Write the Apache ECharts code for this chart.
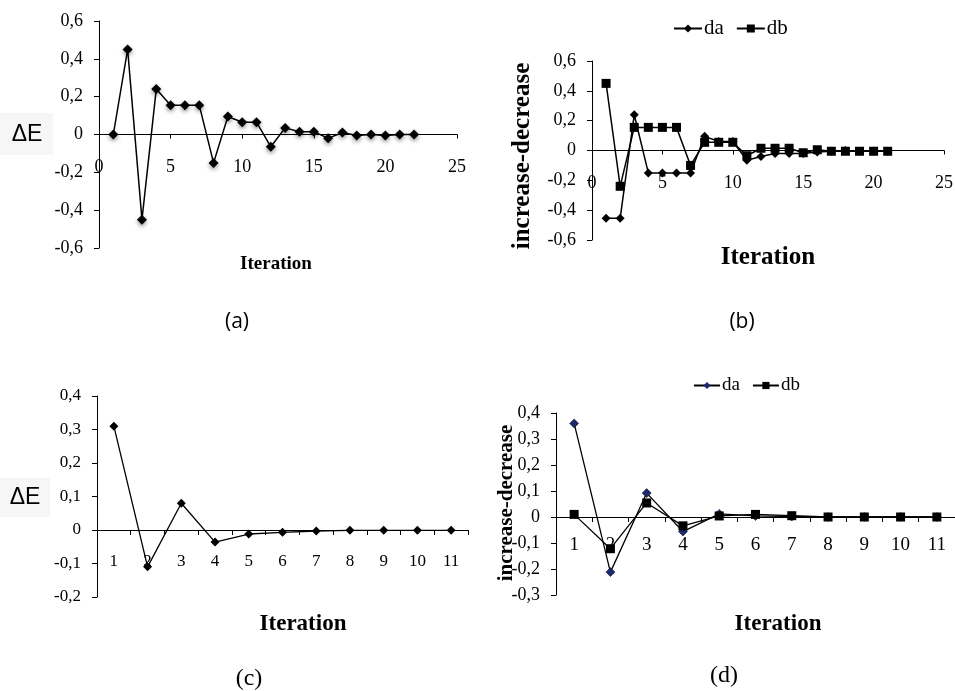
<!DOCTYPE html>
<html>
<head>
<meta charset="utf-8">
<script src="https://cdn.jsdelivr.net/npm/echarts@6/dist/echarts.min.js"></script>
<style>
html,body{margin:0;padding:0;background:#fff;}
#chart{width:955px;height:691px;}
</style>
</head>
<body>
<div id="chart"></div>
<script>
// ---- Data ----
const iterA = [1,2,3,4,5,6,7,8,9,10,11,12,13,14,15,16,17,18,19,20,21,22];
const deltaE_A = [0,0.45,-0.45,0.24,0.155,0.155,0.155,-0.15,0.095,0.065,0.065,-0.065,0.035,0.015,0.015,-0.02,0.01,-0.005,0,-0.005,0,0];

const iterB = [1,2,3,4,5,6,7,8,9,10,11,12,13,14,15,16,17,18,19,20,21];
const da_B = [-0.455,-0.455,0.24,-0.15,-0.15,-0.15,-0.15,0.095,0.06,0.06,-0.065,-0.04,-0.02,-0.02,-0.02,-0.01,-0.005,0,-0.005,-0.005,-0.005];
const db_B = [0.45,-0.24,0.155,0.155,0.155,0.155,-0.1,0.055,0.055,0.055,-0.035,0.015,0.015,0.015,-0.015,0.005,-0.005,-0.005,-0.005,-0.005,-0.005];

const iterCats = ['1','2','3','4','5','6','7','8','9','10','11'];
const deltaE_C = [0.31,-0.11,0.08,-0.036,-0.012,-0.007,-0.003,-0.001,-0.001,-0.001,-0.001];
const da_D = [0.36,-0.212,0.092,-0.056,0.012,0.004,0.002,0,0,0,0];
const db_D = [0.01,-0.122,0.054,-0.034,0.004,0.01,0.005,0,0,0,0];

const xTicksAB = {min:0, max:25, interval:5};
const yRangeA = {min:-0.6, max:0.6, interval:0.2};
const yRangeB = {min:-0.6, max:0.6, interval:0.2};
const yRangeC = {min:-0.2, max:0.4, interval:0.1};
const yRangeD = {min:-0.3, max:0.4, interval:0.1};

// ---- Layout ----
const grids = [
  {left:99, top:21, width:358, height:227},
  {left:592, top:61, width:352, height:179},
  {left:97, top:396, width:371, height:201},
  {left:556, top:413, width:399, height:182}
];
const ranges = [yRangeA, yRangeB, yRangeC, yRangeD];
// offset that lifts the x axis from the grid bottom up to the y = 0 line
const zeroOffset = i => -grids[i].height * (0 - ranges[i].min) / (ranges[i].max - ranges[i].min);

// ---- Helpers ----
const SERIF = '"Liberation Serif", "DejaVu Serif", serif';
const SANS = '"Open Sans", "Liberation Sans", sans-serif';
const fmt = v => { const r = Math.round(v*10)/10; return r === 0 ? '0' : r.toFixed(1).replace('.', ','); };
const pairs = (xs, ys) => xs.map((x,i) => [x, ys[i]]);

function yAxisCfg(idx, fs) {
  const range = ranges[idx];
  return {
    type:'value', gridIndex:idx, min:range.min, max:range.max, interval:range.interval,
    axisLine:{show:true, onZero:false, lineStyle:{color:'#000', width:1}},
    axisTick:{show:true, length:5, lineStyle:{color:'#000'}},
    splitLine:{show:false},
    axisLabel:{formatter:fmt, color:'#000', fontFamily:SERIF, fontSize:fs, margin:16}
  };
}
function xValCfg(idx, fs, margin) {
  return {
    type:'value', gridIndex:idx, min:xTicksAB.min, max:xTicksAB.max, interval:xTicksAB.interval,
    position:'bottom', offset:zeroOffset(idx),
    axisLine:{show:true, onZero:false, lineStyle:{color:'#000', width:1}},
    axisTick:{show:true, length:4, lineStyle:{color:'#000'}},
    splitLine:{show:false},
    axisLabel:{color:'#000', fontFamily:SERIF, fontSize:fs, margin:margin}
  };
}
function xCatCfg(idx, fs, margin) {
  return {
    type:'category', gridIndex:idx, data:iterCats, boundaryGap:true,
    position:'bottom', offset:zeroOffset(idx),
    axisLine:{show:true, onZero:false, lineStyle:{color:'#000', width:1}},
    axisTick:{show:true, length:5, alignWithLabel:false, lineStyle:{color:'#000'}},
    splitLine:{show:false},
    axisLabel:{color:'#000', fontFamily:SERIF, fontSize:fs, margin:margin, interval:0}
  };
}
function txt(x, y, text, font, opts) {
  return Object.assign({
    type:'text', x:x, y:y, z:10,
    style:{text:text, font:font, fill:'#000', textAlign:'center', textVerticalAlign:'middle', align:'center', verticalAlign:'middle'}
  }, opts || {});
}

const shadow = {shadowColor:'rgba(0,0,0,0.45)', shadowBlur:4, shadowOffsetY:2};

const option = {
  animation:false,
  backgroundColor:'#fff',
  grid:grids.map(g => Object.assign({containLabel:false, outerBoundsMode:'none'}, g)),
  xAxis:[ xValCfg(0, 18, 24), xValCfg(1, 18, 24), xCatCfg(2, 17, 23), xCatCfg(3, 19, 19) ],
  yAxis:[ yAxisCfg(0, 18), yAxisCfg(1, 18), yAxisCfg(2, 17), yAxisCfg(3, 18) ],
  legend:[
    {left:673, top:18, padding:0, itemWidth:28, itemHeight:10, itemGap:12,
     textStyle:{fontFamily:SERIF, fontSize:21, color:'#000', padding:[0,0,0,-3]},
     data:['da','db']},
    {left:693, top:376, padding:0, itemWidth:26, itemHeight:9, itemGap:12,
     textStyle:{fontFamily:SERIF, fontSize:19, color:'#000', padding:[0,0,0,-3]},
     data:[{name:'da', itemStyle:{color:'#1c2a6e', borderColor:'#000'}}, 'db']}
  ],
  series:[
    {name:'ΔE (a)', type:'line', xAxisIndex:0, yAxisIndex:0, data:pairs(iterA, deltaE_A),
     symbol:'diamond', symbolSize:10, lineStyle:{color:'#000', width:1.5},
     itemStyle:Object.assign({color:'#000'}, shadow)},
    {name:'da', type:'line', xAxisIndex:1, yAxisIndex:1, data:pairs(iterB, da_B),
     symbol:'diamond', symbolSize:9, lineStyle:{color:'#000', width:1.5}, itemStyle:{color:'#000'}},
    {name:'db', type:'line', xAxisIndex:1, yAxisIndex:1, data:pairs(iterB, db_B),
     symbol:'rect', symbolSize:9, lineStyle:{color:'#000', width:1.5}, itemStyle:{color:'#000'}},
    {name:'ΔE (c)', type:'line', xAxisIndex:2, yAxisIndex:2, data:deltaE_C,
     symbol:'diamond', symbolSize:9, lineStyle:{color:'#000', width:1.3}, itemStyle:{color:'#000'}},
    {name:'da', type:'line', xAxisIndex:3, yAxisIndex:3, data:da_D,
     symbol:'diamond', symbolSize:9, lineStyle:{color:'#000', width:1.3},
     itemStyle:{color:'#1c2a6e', borderColor:'#000', borderWidth:0.5}},
    {name:'db', type:'line', xAxisIndex:3, yAxisIndex:3, data:db_D,
     symbol:'rect', symbolSize:9, lineStyle:{color:'#000', width:1.3}, itemStyle:{color:'#000'}}
  ],
  graphic:[
    {type:'rect', shape:{x:0, y:113, width:53, height:42}, style:{fill:'#f6f6f6'}, z:1},
    {type:'rect', shape:{x:0, y:478, width:50, height:39}, style:{fill:'#f6f6f6'}, z:1},
    txt(27, 135, 'ΔE', '23px "Liberation Sans", sans-serif'),
    txt(25, 498, 'ΔE', '23px "Liberation Sans", sans-serif'),
    txt(276, 264, 'Iteration', 'bold 19px ' + SERIF),
    txt(768, 258, 'Iteration', 'bold 25px ' + SERIF),
    txt(303, 624, 'Iteration', 'bold 23px ' + SERIF),
    txt(778, 624, 'Iteration', 'bold 23px ' + SERIF),
    txt(523, 156, 'increase-decrease', 'bold 25px ' + SERIF, {rotation:Math.PI/2}),
    txt(507, 503, 'increase-decrease', 'bold 21px ' + SERIF, {rotation:Math.PI/2}),
    txt(237, 322, '(a)', '21px ' + SANS),
    txt(742, 322, '(b)', '21px ' + SANS),
    txt(249, 679, '(c)', '24px ' + SERIF),
    txt(724, 676, '(d)', '24px ' + SERIF)
  ]
};

const chart = echarts.init(document.getElementById('chart'), null, {renderer:'canvas'});
chart.setOption(option);
</script>
</body>
</html>
